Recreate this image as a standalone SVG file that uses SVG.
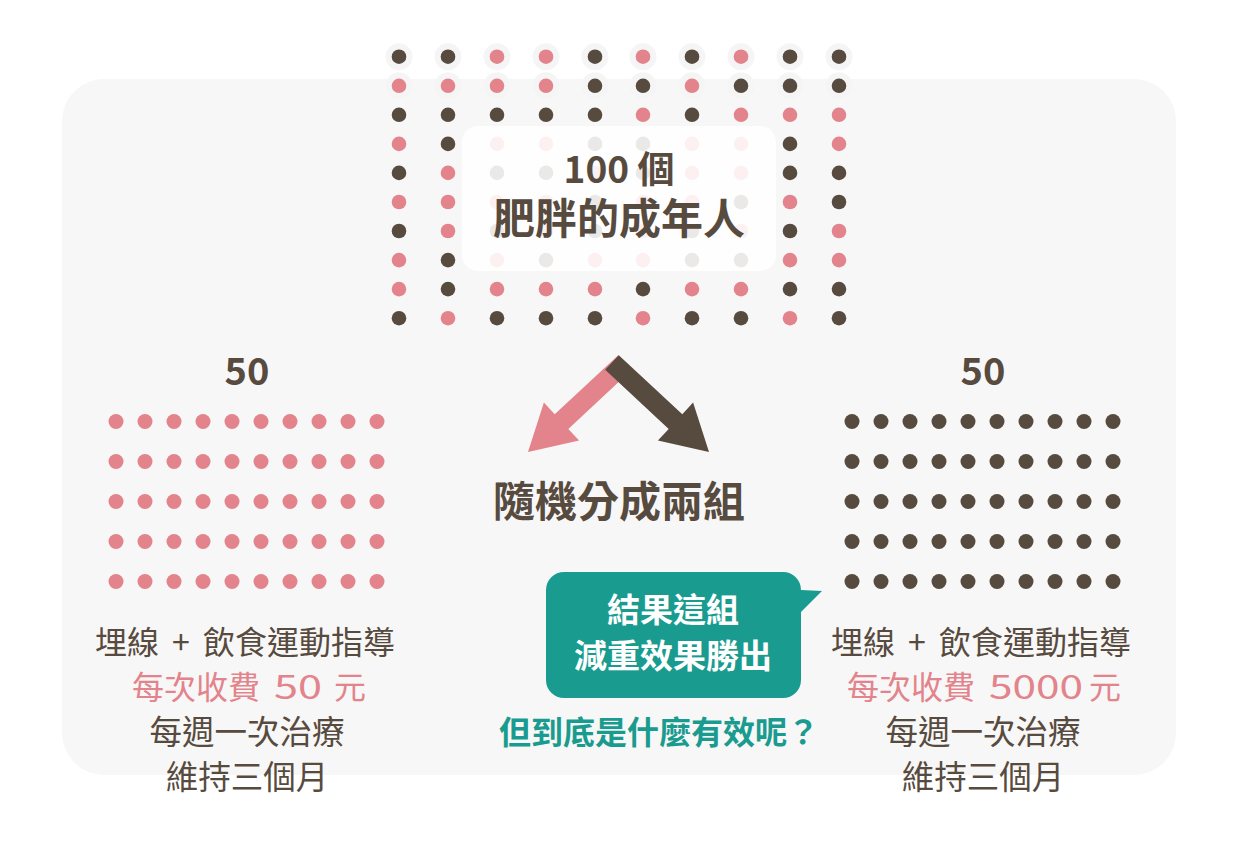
<svg xmlns="http://www.w3.org/2000/svg" width="1237" height="855" viewBox="0 0 1237 855">
<defs>
<style>
.bg{fill:#f7f7f7}
.halo{fill:#f5f5f5}
.p{fill:#e3838b}
.d{fill:#574a3e}
.t{font-family:"Noto Sans CJK TC","Noto Sans",sans-serif;text-anchor:middle}
.s{text-anchor:start}
.b{font-weight:700}
.dk{fill:#574a3e}
.pk{fill:#e3838b}
.w{fill:#ffffff}
.tl{fill:#1a9b8f}
</style>
</defs>
<rect width="1237" height="855" fill="#ffffff"/>
<g id="panel"><rect class="bg" x="62" y="79" width="1114" height="696" rx="42"/></g>

<g id="population">
<g id="halos" class="halo">
<circle cx="399" cy="56.7" r="13.5"/><circle cx="448" cy="56.7" r="13.5"/><circle cx="497" cy="56.7" r="13.5"/><circle cx="546" cy="56.7" r="13.5"/><circle cx="595" cy="56.7" r="13.5"/><circle cx="643" cy="56.7" r="13.5"/><circle cx="692" cy="56.7" r="13.5"/><circle cx="741" cy="56.7" r="13.5"/><circle cx="790" cy="56.7" r="13.5"/><circle cx="839" cy="56.7" r="13.5"/>
<circle cx="399" cy="85.8" r="13.5"/><circle cx="448" cy="85.8" r="13.5"/><circle cx="497" cy="85.8" r="13.5"/><circle cx="546" cy="85.8" r="13.5"/><circle cx="595" cy="85.8" r="13.5"/><circle cx="643" cy="85.8" r="13.5"/><circle cx="692" cy="85.8" r="13.5"/><circle cx="741" cy="85.8" r="13.5"/><circle cx="790" cy="85.8" r="13.5"/><circle cx="839" cy="85.8" r="13.5"/>
</g>
<g id="dots">
<circle class="d" cx="399" cy="56.7" r="7.3"/><circle class="d" cx="448" cy="56.7" r="7.3"/><circle class="p" cx="497" cy="56.7" r="7.3"/><circle class="p" cx="546" cy="56.7" r="7.3"/><circle class="d" cx="595" cy="56.7" r="7.3"/><circle class="p" cx="643" cy="56.7" r="7.3"/><circle class="d" cx="692" cy="56.7" r="7.3"/><circle class="p" cx="741" cy="56.7" r="7.3"/><circle class="d" cx="790" cy="56.7" r="7.3"/><circle class="d" cx="839" cy="56.7" r="7.3"/>
<circle class="p" cx="399" cy="85.8" r="7.3"/><circle class="p" cx="448" cy="85.8" r="7.3"/><circle class="p" cx="497" cy="85.8" r="7.3"/><circle class="p" cx="546" cy="85.8" r="7.3"/><circle class="d" cx="595" cy="85.8" r="7.3"/><circle class="d" cx="643" cy="85.8" r="7.3"/><circle class="p" cx="692" cy="85.8" r="7.3"/><circle class="d" cx="741" cy="85.8" r="7.3"/><circle class="d" cx="790" cy="85.8" r="7.3"/><circle class="d" cx="839" cy="85.8" r="7.3"/>
<circle class="d" cx="399" cy="114.8" r="7.3"/><circle class="d" cx="448" cy="114.8" r="7.3"/><circle class="d" cx="497" cy="114.8" r="7.3"/><circle class="d" cx="546" cy="114.8" r="7.3"/><circle class="d" cx="595" cy="114.8" r="7.3"/><circle class="p" cx="643" cy="114.8" r="7.3"/><circle class="d" cx="692" cy="114.8" r="7.3"/><circle class="p" cx="741" cy="114.8" r="7.3"/><circle class="p" cx="790" cy="114.8" r="7.3"/><circle class="p" cx="839" cy="114.8" r="7.3"/>
<circle class="p" cx="399" cy="143.9" r="7.3"/><circle class="d" cx="448" cy="143.9" r="7.3"/><circle class="p" cx="497" cy="143.9" r="7.3"/><circle class="p" cx="546" cy="143.9" r="7.3"/><circle class="d" cx="595" cy="143.9" r="7.3"/><circle class="d" cx="643" cy="143.9" r="7.3"/><circle class="p" cx="692" cy="143.9" r="7.3"/><circle class="p" cx="741" cy="143.9" r="7.3"/><circle class="d" cx="790" cy="143.9" r="7.3"/><circle class="p" cx="839" cy="143.9" r="7.3"/>
<circle class="d" cx="399" cy="172.9" r="7.3"/><circle class="p" cx="448" cy="172.9" r="7.3"/><circle class="d" cx="497" cy="172.9" r="7.3"/><circle class="d" cx="546" cy="172.9" r="7.3"/><circle class="p" cx="595" cy="172.9" r="7.3"/><circle class="d" cx="643" cy="172.9" r="7.3"/><circle class="p" cx="692" cy="172.9" r="7.3"/><circle class="p" cx="741" cy="172.9" r="7.3"/><circle class="d" cx="790" cy="172.9" r="7.3"/><circle class="d" cx="839" cy="172.9" r="7.3"/>
<circle class="p" cx="399" cy="202" r="7.3"/><circle class="p" cx="448" cy="202" r="7.3"/><circle class="p" cx="497" cy="202" r="7.3"/><circle class="p" cx="546" cy="202" r="7.3"/><circle class="d" cx="595" cy="202" r="7.3"/><circle class="p" cx="643" cy="202" r="7.3"/><circle class="p" cx="692" cy="202" r="7.3"/><circle class="d" cx="741" cy="202" r="7.3"/><circle class="p" cx="790" cy="202" r="7.3"/><circle class="d" cx="839" cy="202" r="7.3"/>
<circle class="d" cx="399" cy="231" r="7.3"/><circle class="p" cx="448" cy="231" r="7.3"/><circle class="d" cx="497" cy="231" r="7.3"/><circle class="p" cx="546" cy="231" r="7.3"/><circle class="d" cx="595" cy="231" r="7.3"/><circle class="p" cx="643" cy="231" r="7.3"/><circle class="d" cx="692" cy="231" r="7.3"/><circle class="p" cx="741" cy="231" r="7.3"/><circle class="d" cx="790" cy="231" r="7.3"/><circle class="p" cx="839" cy="231" r="7.3"/>
<circle class="p" cx="399" cy="260.1" r="7.3"/><circle class="d" cx="448" cy="260.1" r="7.3"/><circle class="p" cx="497" cy="260.1" r="7.3"/><circle class="d" cx="546" cy="260.1" r="7.3"/><circle class="p" cx="595" cy="260.1" r="7.3"/><circle class="p" cx="643" cy="260.1" r="7.3"/><circle class="d" cx="692" cy="260.1" r="7.3"/><circle class="d" cx="741" cy="260.1" r="7.3"/><circle class="p" cx="790" cy="260.1" r="7.3"/><circle class="p" cx="839" cy="260.1" r="7.3"/>
<circle class="p" cx="399" cy="289.1" r="7.3"/><circle class="d" cx="448" cy="289.1" r="7.3"/><circle class="p" cx="497" cy="289.1" r="7.3"/><circle class="p" cx="546" cy="289.1" r="7.3"/><circle class="p" cx="595" cy="289.1" r="7.3"/><circle class="d" cx="643" cy="289.1" r="7.3"/><circle class="p" cx="692" cy="289.1" r="7.3"/><circle class="p" cx="741" cy="289.1" r="7.3"/><circle class="d" cx="790" cy="289.1" r="7.3"/><circle class="d" cx="839" cy="289.1" r="7.3"/>
<circle class="d" cx="399" cy="318.2" r="7.3"/><circle class="p" cx="448" cy="318.2" r="7.3"/><circle class="d" cx="497" cy="318.2" r="7.3"/><circle class="d" cx="546" cy="318.2" r="7.3"/><circle class="d" cx="595" cy="318.2" r="7.3"/><circle class="p" cx="643" cy="318.2" r="7.3"/><circle class="d" cx="692" cy="318.2" r="7.3"/><circle class="d" cx="741" cy="318.2" r="7.3"/><circle class="p" cx="790" cy="318.2" r="7.3"/><circle class="d" cx="839" cy="318.2" r="7.3"/>
</g>
<rect x="462" y="126" width="314" height="145" rx="16" fill="#ffffff" fill-opacity="0.88"/>
<text class="t b dk" x="619" y="183" font-size="37">100 個</text>
<text class="t b dk" x="619" y="234" font-size="42">肥胖的成年人</text>
</g>

<g id="connectors">
<polygon class="p" points="618.2,355.2 631.8,369.8 568.3,428.9 579.1,440.6 528,452 543.9,402.4 554.7,414.2"/>
<polygon class="d" points="618.8,355.2 682.3,414.2 693.1,402.4 709,452 657.9,440.6 668.7,428.9 605.2,369.8"/>
</g>

<g id="split-label">
<text class="t b dk" x="619" y="517" font-size="42">隨機分成兩組</text>
</g>

<g id="group-left">
<text class="t b dk" x="247" y="385" font-size="38">50</text>
<g class="p">
<circle cx="116" cy="421.5" r="7.5"/><circle cx="145" cy="421.5" r="7.5"/><circle cx="174" cy="421.5" r="7.5"/><circle cx="203" cy="421.5" r="7.5"/><circle cx="232" cy="421.5" r="7.5"/><circle cx="261" cy="421.5" r="7.5"/><circle cx="290" cy="421.5" r="7.5"/><circle cx="319" cy="421.5" r="7.5"/><circle cx="348" cy="421.5" r="7.5"/><circle cx="377" cy="421.5" r="7.5"/>
<circle cx="116" cy="461.5" r="7.5"/><circle cx="145" cy="461.5" r="7.5"/><circle cx="174" cy="461.5" r="7.5"/><circle cx="203" cy="461.5" r="7.5"/><circle cx="232" cy="461.5" r="7.5"/><circle cx="261" cy="461.5" r="7.5"/><circle cx="290" cy="461.5" r="7.5"/><circle cx="319" cy="461.5" r="7.5"/><circle cx="348" cy="461.5" r="7.5"/><circle cx="377" cy="461.5" r="7.5"/>
<circle cx="116" cy="501.5" r="7.5"/><circle cx="145" cy="501.5" r="7.5"/><circle cx="174" cy="501.5" r="7.5"/><circle cx="203" cy="501.5" r="7.5"/><circle cx="232" cy="501.5" r="7.5"/><circle cx="261" cy="501.5" r="7.5"/><circle cx="290" cy="501.5" r="7.5"/><circle cx="319" cy="501.5" r="7.5"/><circle cx="348" cy="501.5" r="7.5"/><circle cx="377" cy="501.5" r="7.5"/>
<circle cx="116" cy="541.5" r="7.5"/><circle cx="145" cy="541.5" r="7.5"/><circle cx="174" cy="541.5" r="7.5"/><circle cx="203" cy="541.5" r="7.5"/><circle cx="232" cy="541.5" r="7.5"/><circle cx="261" cy="541.5" r="7.5"/><circle cx="290" cy="541.5" r="7.5"/><circle cx="319" cy="541.5" r="7.5"/><circle cx="348" cy="541.5" r="7.5"/><circle cx="377" cy="541.5" r="7.5"/>
<circle cx="116" cy="581.5" r="7.5"/><circle cx="145" cy="581.5" r="7.5"/><circle cx="174" cy="581.5" r="7.5"/><circle cx="203" cy="581.5" r="7.5"/><circle cx="232" cy="581.5" r="7.5"/><circle cx="261" cy="581.5" r="7.5"/><circle cx="290" cy="581.5" r="7.5"/><circle cx="319" cy="581.5" r="7.5"/><circle cx="348" cy="581.5" r="7.5"/><circle cx="377" cy="581.5" r="7.5"/>
</g>
<text class="t s dk" y="654" font-size="32"><tspan x="95">埋線</tspan><tspan x="172">+</tspan><tspan x="203">飲食運動指導</tspan></text>
<text class="t s pk" y="699" font-size="32"><tspan x="132">每次收費</tspan><tspan x="274" textLength="48" lengthAdjust="spacingAndGlyphs">50</tspan><tspan x="334">元</tspan></text>
<text class="t dk" x="247" y="744" font-size="32.5">每週一次治療</text>
<text class="t dk" x="247" y="789" font-size="32.5">維持三個月</text>
</g>

<g id="group-right">
<text class="t b dk" x="983" y="385" font-size="38">50</text>
<g class="d">
<circle cx="852" cy="421.5" r="7.5"/><circle cx="881" cy="421.5" r="7.5"/><circle cx="910" cy="421.5" r="7.5"/><circle cx="939" cy="421.5" r="7.5"/><circle cx="968" cy="421.5" r="7.5"/><circle cx="997" cy="421.5" r="7.5"/><circle cx="1026" cy="421.5" r="7.5"/><circle cx="1055" cy="421.5" r="7.5"/><circle cx="1084" cy="421.5" r="7.5"/><circle cx="1113" cy="421.5" r="7.5"/>
<circle cx="852" cy="461.5" r="7.5"/><circle cx="881" cy="461.5" r="7.5"/><circle cx="910" cy="461.5" r="7.5"/><circle cx="939" cy="461.5" r="7.5"/><circle cx="968" cy="461.5" r="7.5"/><circle cx="997" cy="461.5" r="7.5"/><circle cx="1026" cy="461.5" r="7.5"/><circle cx="1055" cy="461.5" r="7.5"/><circle cx="1084" cy="461.5" r="7.5"/><circle cx="1113" cy="461.5" r="7.5"/>
<circle cx="852" cy="501.5" r="7.5"/><circle cx="881" cy="501.5" r="7.5"/><circle cx="910" cy="501.5" r="7.5"/><circle cx="939" cy="501.5" r="7.5"/><circle cx="968" cy="501.5" r="7.5"/><circle cx="997" cy="501.5" r="7.5"/><circle cx="1026" cy="501.5" r="7.5"/><circle cx="1055" cy="501.5" r="7.5"/><circle cx="1084" cy="501.5" r="7.5"/><circle cx="1113" cy="501.5" r="7.5"/>
<circle cx="852" cy="541.5" r="7.5"/><circle cx="881" cy="541.5" r="7.5"/><circle cx="910" cy="541.5" r="7.5"/><circle cx="939" cy="541.5" r="7.5"/><circle cx="968" cy="541.5" r="7.5"/><circle cx="997" cy="541.5" r="7.5"/><circle cx="1026" cy="541.5" r="7.5"/><circle cx="1055" cy="541.5" r="7.5"/><circle cx="1084" cy="541.5" r="7.5"/><circle cx="1113" cy="541.5" r="7.5"/>
<circle cx="852" cy="581.5" r="7.5"/><circle cx="881" cy="581.5" r="7.5"/><circle cx="910" cy="581.5" r="7.5"/><circle cx="939" cy="581.5" r="7.5"/><circle cx="968" cy="581.5" r="7.5"/><circle cx="997" cy="581.5" r="7.5"/><circle cx="1026" cy="581.5" r="7.5"/><circle cx="1055" cy="581.5" r="7.5"/><circle cx="1084" cy="581.5" r="7.5"/><circle cx="1113" cy="581.5" r="7.5"/>
</g>
<text class="t s dk" y="654" font-size="32"><tspan x="831">埋線</tspan><tspan x="908">+</tspan><tspan x="939">飲食運動指導</tspan></text>
<text class="t s pk" y="699" font-size="32"><tspan x="847">每次收費</tspan><tspan x="989" textLength="94" lengthAdjust="spacingAndGlyphs">5000</tspan><tspan x="1089">元</tspan></text>
<text class="t dk" x="983" y="744" font-size="32.5">每週一次治療</text>
<text class="t dk" x="983" y="789" font-size="32.5">維持三個月</text>
</g>

<g id="result-bubble">
<path class="tl" d="M564,572 H783 A18,18 0 0 1 801,590 L822,591 L801,612 V680 A18,18 0 0 1 783,698 H564 A18,18 0 0 1 546,680 V590 A18,18 0 0 1 564,572 Z"/>
<text class="t b w" x="673" y="622" font-size="33">結果這組</text>
<text class="t b w" x="673" y="668" font-size="33">減重效果勝出</text>
<text class="t s b tl" x="499" y="744" font-size="32">但到底是什麼有效呢？</text>
</g>
</svg>
